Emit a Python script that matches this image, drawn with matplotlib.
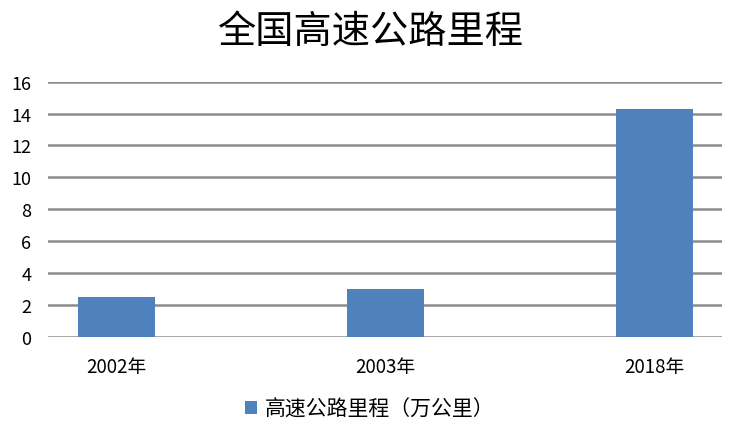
import matplotlib
matplotlib.use("Agg")
import matplotlib.pyplot as plt
from matplotlib.patches import Patch

plt.rcParams['font.family'] = ['Noto Sans CJK SC', 'DejaVu Sans']

categories = ["2002年", "2003年", "2018年"]
values = [2.51, 2.97, 14.26]
series_name = "高速公路里程（万公里）"
title = "全国高速公路里程"
yticks = [0, 2, 4, 6, 8, 10, 12, 14, 16]

bar_color = "#4f81bd"
grid_color = "#8c8c8c"

fig = plt.figure(figsize=(7.35, 4.35), dpi=100)
ax = fig.add_axes([48/735, 1-337.7/435, (722-48)/735, (337.7-82.7)/435])

x = list(range(len(categories)))
ax.bar(x, values, width=0.286, color=bar_color, zorder=3)
ax.set_xlim(-0.255, 2.251)
ax.set_ylim(0, 16)
ax.set_yticks(yticks)
ax.set_yticklabels([str(t) for t in yticks], fontsize=13)
ax.set_xticks(x)
ax.set_xticklabels(categories, fontsize=13.5)
ax.tick_params(axis='both', length=0, colors='#000000')
ax.tick_params(axis='y', pad=12)
ax.tick_params(axis='x', pad=14)
for s in ax.spines.values():
    s.set_visible(False)
ax.yaxis.grid(True, color=grid_color, linewidth=1.8, zorder=0)
ax.set_axisbelow(True)

fig.text(0.505, 1-33/435, title, ha='center', va='center', fontsize=27.5)

handles = [Patch(facecolor=bar_color, edgecolor='none')]
fig.legend(handles, [series_name], loc='center', bbox_to_anchor=(370/735, 1-410/435),
           frameon=False, fontsize=15, handlelength=0.55, handleheight=0.55,
           handletextpad=0.4)

fig.savefig("out.png", dpi=100, facecolor='white')
